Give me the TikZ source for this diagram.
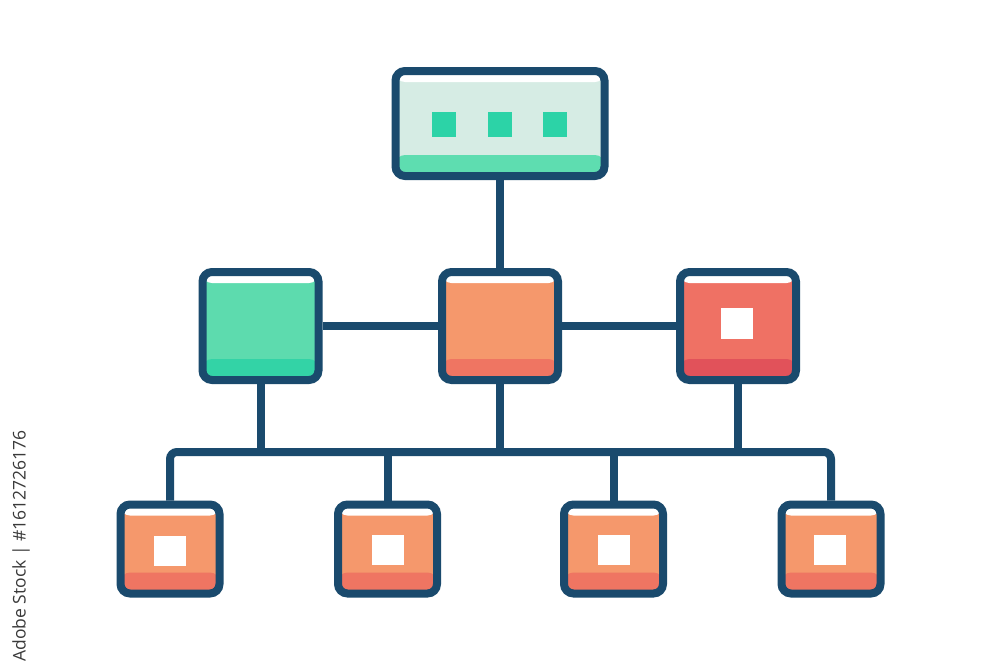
\documentclass[tikz,border=0pt]{standalone}
\usepackage{fontspec}
\setmainfont{Open Sans}
\usetikzlibrary{calc}
\definecolor{navy}{HTML}{1A4A6D}
\definecolor{topfill}{HTML}{D6ECE4}
\definecolor{topbot}{HTML}{5EDDB0}
\definecolor{teal}{HTML}{2CD3A7}
\definecolor{grfill}{HTML}{5DDBAE}
\definecolor{grbot}{HTML}{33D3A6}
\definecolor{orfill}{HTML}{F5986C}
\definecolor{orbot}{HTML}{EF7562}
\definecolor{rdfill}{HTML}{EF7164}
\definecolor{rdbot}{HTML}{E1525A}
\definecolor{wmark}{HTML}{3A3A3A}
\tikzset{
  card/.style n args={2}{rectangle, draw=navy, line width=8pt, rounded corners=9.5pt,
    inner sep=0pt, fill=#1,
    path picture={
      \fill[white] (path picture bounding box.north west) rectangle
        ($(path picture bounding box.north east)+(0,11)$);
      \fill[#2] ($(path picture bounding box.south west)+(0,-21)$) rectangle
        (path picture bounding box.south east);
    }},
  midcard/.style n args={2}{card={#1}{#2}, minimum width=116pt, minimum height=108pt},
  lowcard/.style={card={orfill}{orbot}, minimum width=99pt, minimum height=89pt},
  dot/.style={fill=#1, draw=none, inner sep=0pt},
  link/.style={draw=navy, line width=8pt},
}
\begin{document}
\begin{tikzpicture}[x=1pt,y=-1pt]
\useasboundingbox[fill=white] (0,0) rectangle (1000,667);
\node[card={topfill}{topbot}, minimum width=209pt, minimum height=105pt] (top) at (500,123.5) {};
\node[midcard={grfill}{grbot}] (ml) at (260.5,326) {};
\node[midcard={orfill}{orbot}] (mc) at (500,326) {};
\node[midcard={rdfill}{rdbot}] (mr) at (738,326) {};
\node[lowcard] (b1) at (170,549) {};
\node[lowcard] (b2) at (387.5,549) {};
\node[lowcard] (b3) at (613.5,549) {};
\node[lowcard] (b4) at (831,549) {};
\coordinate (bus) at (500,452);
% connectors
\draw[link] (top.south) -- (mc.north);
\draw[link] (ml.east) -- (mc.west);
\draw[link] (mc.east) -- (mr.west);
\draw[link] (ml.south) -- (ml.south |- bus);
\draw[link] (mc.south) -- (mc.south |- bus);
\draw[link] (mr.south) -- (mr.south |- bus);
\draw[link, rounded corners=7pt] (b1.north) -- (b1.north |- bus) -- (b4.north |- bus) -- (b4.north);
\draw[link] (b2.north) -- (b2.north |- bus);
\draw[link] (b3.north) -- (b3.north |- bus);
% squares on top card
\node[dot=teal, minimum width=24.5pt, minimum height=25pt] (s1) at (444,124) {};
\node[dot=teal, minimum width=24.5pt, minimum height=25pt] (s2) at (500,124) {};
\node[dot=teal, minimum width=24.5pt, minimum height=25pt] (s3) at (555,124) {};
% white squares
\node[dot=white, minimum width=32pt, minimum height=31pt] (w0) at (737,323.5) {};
\node[dot=white, minimum width=32pt, minimum height=30pt] (w1) at (170,551) {};
\node[dot=white, minimum width=32pt, minimum height=30pt] (w2) at (387.5,550) {};
\node[dot=white, minimum width=32pt, minimum height=30pt] (w3) at (613.5,550) {};
\node[dot=white, minimum width=32pt, minimum height=30pt] (w4) at (830,550) {};
% stock label
\node[rotate=90, text=wmark, font=\fontsize{17.5}{19}\selectfont, inner sep=0pt] (lbl) at (21,546) {Adobe Stock | \#1612726176};
\end{tikzpicture}
\end{document}
